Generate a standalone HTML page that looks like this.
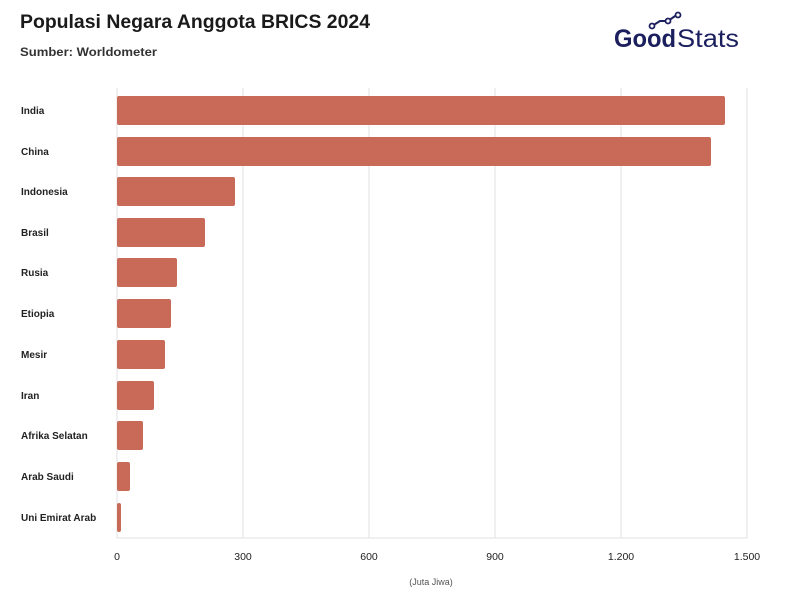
<!DOCTYPE html>
<html><head><meta charset="utf-8"><style>
body{margin:0;background:#fff;width:800px;height:606px;overflow:hidden;font-family:"Liberation Sans",sans-serif;}
</style></head><body>
<svg width="800" height="606" xmlns="http://www.w3.org/2000/svg" font-family="Liberation Sans, sans-serif">
<text x="20" y="28" font-size="19" font-weight="bold" fill="#1a1a1a" textLength="350" lengthAdjust="spacingAndGlyphs">Populasi Negara Anggota BRICS 2024</text>
<text x="20" y="56" font-size="12" font-weight="bold" fill="#333" textLength="137" lengthAdjust="spacingAndGlyphs">Sumber: Worldometer</text>
<!-- logo -->
<text x="614" y="47" font-size="25" font-weight="bold" fill="#1b1f5e" textLength="62" lengthAdjust="spacingAndGlyphs">Good</text>
<text x="677" y="47" font-size="25" fill="#1b1f5e" textLength="62" lengthAdjust="spacingAndGlyphs">Stats</text>
<polyline points="652,26 660,21 668,21 678,14" fill="none" stroke="#1b1f5e" stroke-width="2"/>
<circle cx="652" cy="26" r="2.5" fill="#fff" stroke="#1b1f5e" stroke-width="1.8"/>
<circle cx="668" cy="21" r="2.5" fill="#fff" stroke="#1b1f5e" stroke-width="1.8"/>
<circle cx="678" cy="15" r="2.5" fill="#fff" stroke="#1b1f5e" stroke-width="1.8"/>
<!-- grid -->
<g stroke="#e2e2e2" stroke-width="1">
<line x1="117" y1="88" x2="117" y2="538"/>
<line x1="243" y1="88" x2="243" y2="538"/>
<line x1="369" y1="88" x2="369" y2="538"/>
<line x1="495" y1="88" x2="495" y2="538"/>
<line x1="621" y1="88" x2="621" y2="538"/>
<line x1="747" y1="88" x2="747" y2="538"/>
<line x1="117" y1="538" x2="747" y2="538"/>
</g>
<g fill="#c96a58">
<rect x="117" y="96" width="608" height="29" rx="2"/>
<rect x="117" y="137" width="594" height="29" rx="2"/>
<rect x="117" y="177" width="118" height="29" rx="2"/>
<rect x="117" y="218" width="88" height="29" rx="2"/>
<rect x="117" y="258" width="60" height="29" rx="2"/>
<rect x="117" y="299" width="54" height="29" rx="2"/>
<rect x="117" y="340" width="48" height="29" rx="2"/>
<rect x="117" y="381" width="37" height="29" rx="2"/>
<rect x="117" y="421" width="26" height="29" rx="2"/>
<rect x="117" y="462" width="13" height="29" rx="2"/>
<rect x="117" y="503" width="4" height="29" rx="2"/>
</g>
<g font-size="10" font-weight="bold" fill="#222">
<text x="21" y="114">India</text>
<text x="21" y="155">China</text>
<text x="21" y="195">Indonesia</text>
<text x="21" y="236">Brasil</text>
<text x="21" y="276">Rusia</text>
<text x="21" y="317">Etiopia</text>
<text x="21" y="358">Mesir</text>
<text x="21" y="399">Iran</text>
<text x="21" y="439">Afrika Selatan</text>
<text x="21" y="480">Arab Saudi</text>
<text x="21" y="521">Uni Emirat Arab</text>
</g>
<g font-size="10.5" fill="#222" text-anchor="middle">
<text x="117" y="560">0</text>
<text x="243" y="560">300</text>
<text x="369" y="560">600</text>
<text x="495" y="560">900</text>
<text x="621" y="560">1.200</text>
<text x="747" y="560">1.500</text>
</g>
<text x="431" y="585" font-size="9" fill="#555" text-anchor="middle">(Juta Jiwa)</text>
</svg>
</body></html>
